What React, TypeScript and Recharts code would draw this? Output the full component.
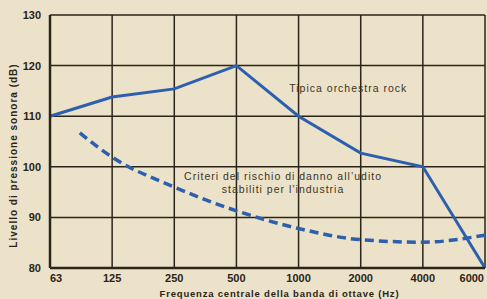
import React from 'react';
import { LineChart, Line, XAxis, YAxis, CartesianGrid, ReferenceDot } from 'recharts';

const bandLabels = ['63', '125', '250', '500', '1000', '2000', '4000', '6000'];
const bandIndex = [0, 1, 2, 3, 4, 5, 6, 7];
const rockLevels = [110, 113.8, 115.4, 120, 110, 102.7, 100, 80];
const riskX = [0.48, 1, 2, 3, 4, 5, 6, 7];
const riskLevels = [106.7, 101.9, 96, 91.3, 87.8, 85.6, 85.1, 86.5];
const yTicks = [80, 90, 100, 110, 120, 130];

const rockData = bandIndex.map((x, i) => ({ x, rock: rockLevels[i] }));
const riskData = riskX.map((x, i) => ({ x, risk: riskLevels[i] }));

const BG = '#ece2c9';
const INK = '#2b2418';
const BLUE = '#2c5fae';
const FONT = '"Liberation Sans", Arial, sans-serif';

const XTick = (props: any) => {
  const { x, y, payload, index } = props;
  const last = index === bandLabels.length - 1;
  const first = index === 0;
  return (
    <text
      x={first ? x + 6 : last ? x + 1 : x}
      y={y + 6}
      textAnchor={last ? 'end' : 'middle'}
      fill={INK}
      fontSize={11}
      fontWeight="bold"
      fontFamily={FONT}
    >
      {bandLabels[payload.value]}
    </text>
  );
};

const YTick = (props: any) => {
  const { x, y, payload } = props;
  return (
    <text x={x - 1} y={y + 4} textAnchor="end" fill={INK} fontSize={11} fontWeight="bold" fontFamily={FONT}>
      {payload.value}
    </text>
  );
};

const XLabel = (props: any) => {
  const { viewBox } = props;
  const cx = viewBox.x + viewBox.width / 2 + 12;
  return (
    <text x={cx} y={297} textAnchor="middle" fill={INK} fontSize={9.5} fontWeight="bold" fontFamily={FONT} letterSpacing={0.8}>
      Frequenza centrale della banda di ottave (Hz)
    </text>
  );
};

const YLabel = (props: any) => {
  const { viewBox } = props;
  const cy = viewBox.y + viewBox.height / 2 + 14;
  const cx = 17;
  return (
    <text
      x={cx}
      y={cy}
      transform={`rotate(-90 ${cx} ${cy})`}
      textAnchor="middle"
      fill={INK}
      fontSize={10}
      fontWeight="bold"
      fontFamily={FONT}
      letterSpacing={1}
    >
      Livello di pressione sonora (dB)
    </text>
  );
};

const Note = (lines: string[]) => (props: any) => {
  const { viewBox } = props;
  const cx = viewBox.x + (viewBox.width || 0) / 2;
  const cy = viewBox.y + (viewBox.height || 0) / 2;
  return (
    <text textAnchor="middle" fill="#3b3428" fontSize={10.5} fontFamily={FONT} letterSpacing={1}>
      {lines.map((l, i) => (
        <tspan key={i} x={cx} y={cy + 4 + i * 13}>
          {l}
        </tspan>
      ))}
    </text>
  );
};

export default function App() {
  return (
    <div style={{ position: 'absolute', left: 0, top: 0, width: 487, height: 299, background: BG }}>
      <LineChart width={487} height={299} margin={{ top: 15, right: 2, left: 0, bottom: 0 }}>
        <CartesianGrid stroke={INK} strokeWidth={1.5} horizontal vertical />
        <XAxis
          dataKey="x"
          type="number"
          domain={[0, 7]}
          ticks={bandIndex}
          tick={<XTick />}
          tickLine={false}
          axisLine={{ stroke: INK, strokeWidth: 2.5 }}
          height={31}
          label={<XLabel />}
        />
        <YAxis
          type="number"
          domain={[80, 130]}
          ticks={yTicks}
          tick={<YTick />}
          tickLine={false}
          axisLine={{ stroke: INK, strokeWidth: 2.5 }}
          width={50}
          label={<YLabel />}
        />
        <Line
          data={riskData}
          dataKey="risk"
          type="monotone"
          stroke={BLUE}
          strokeWidth={3.5}
          strokeDasharray="9 5"
          dot={false}
          isAnimationActive={false}
        />
        <Line
          data={rockData}
          dataKey="rock"
          type="linear"
          stroke={BLUE}
          strokeWidth={3}
          dot={false}
          isAnimationActive={false}
        />
        <ReferenceDot x={4.8} y={115.6} r={0} label={Note(['Tipica orchestra rock'])} />
        <ReferenceDot x={3.75} y={98.2} r={0} label={Note(['Criteri del rischio di danno all\u2019udito', 'stabiliti per l\u2019industria'])} />
      </LineChart>
    </div>
  );
}
